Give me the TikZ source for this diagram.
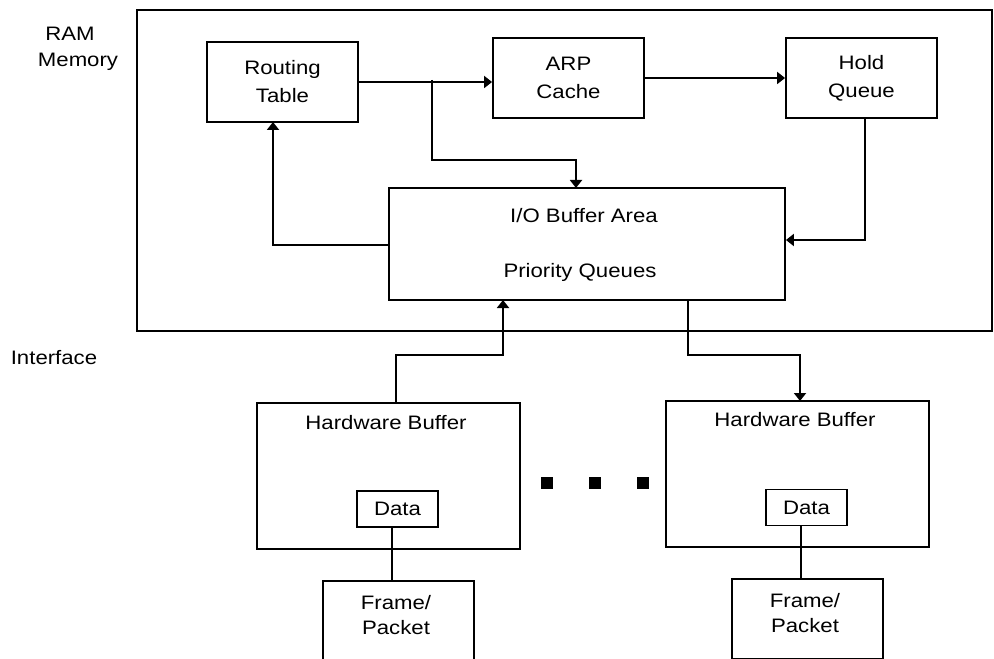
\documentclass[tikz,border=0pt]{standalone}
\usepackage{fontspec}
\setmainfont{Liberation Sans}[FakeStretch=1.14]
\usetikzlibrary{arrows.meta,calc}
\tikzset{
  box/.style={draw, line width=1.4pt, inner sep=0pt, rectangle},
  topbox/.style={box, minimum width=113.25pt, minimum height=60pt, align=center},
  hwbox/.style={box, minimum width=197.25pt, minimum height=109.5pt},
  databox/.style={box, minimum width=60.75pt, minimum height=27pt},
  txt/.style={inner sep=0pt, align=center},
  arr/.style={line width=1.4pt, -{Triangle[length=6pt,width=9pt]}},
  conn/.style={line width=1.4pt},
  dotsq/.style={fill=black, inner sep=0pt, minimum size=9pt, rectangle}
}
\begin{document}
\begin{tikzpicture}[x=0.75pt,y=-0.75pt,font=\fontsize{14.6}{21}\selectfont]
\useasboundingbox (0,0) rectangle (994,659);
\clip (0,0) rectangle (994,659);
\fill[white] (0,0) rectangle (994,659);

% outer RAM frame
\node[box, minimum width=641.25pt, minimum height=240.75pt] (ram) at (564.5,170.5) {};

% labels
\node[txt] (lram) at (70,34) {RAM};
\node[txt] (lmem) at (78,62) {Memory};
\node[txt] (lint) at (54,358) {Interface};

% top boxes
\node[topbox] (rt) at (282.5,82) {Routing\\Table};
\node[topbox] (arp) at (568.5,78) {ARP\\Cache};
\node[topbox] (hold) at (861.5,78) {Hold\\Queue};

% I/O buffer
\node[box, minimum width=297pt, minimum height=84pt] (io) at (587,244) {};
\node[txt] (iot1) at (584,216) {I/O Buffer Area};
\node[txt] (iot2) at (580,272) {Priority Queues};

% hardware buffers
\node[hwbox] (hb1) at (388.5,476) {};
\node[txt] (hb1t) at (386,423) {Hardware Buffer};
\node[hwbox] (hb2) at (797.5,474) {};
\node[txt] (hb2t) at (795,420) {Hardware Buffer};

\node[databox] (d1) at (397.5,509) {Data};
\node[databox] (d2) at (806.5,507.5) {Data};

% frame/packet boxes
\node[topbox] (f1) at (398.5,621) {};
\node[txt] (f1t) at (396,615) {Frame/\\[-2pt]Packet};
\node[topbox] (f2) at (807.5,619) {};
\node[txt] (f2t) at (805,613) {Frame/\\[-2pt]Packet};

% dots
\node[dotsq] (dot1) at (547,483) {};
\node[dotsq] (dot2) at (595,483) {};
\node[dotsq] (dot3) at (643,483) {};

% coordinates for connector ends
\coordinate (br) at ($(rt.east)!0.548!(arp.west)$);
\coordinate (ioin) at (576,188);
\coordinate (rtin) at (273,122);
\coordinate (ioout1) at (503,300);
\coordinate (hb1top) at (396,403);
\coordinate (ioout2) at (688,300);
\coordinate (hb2in) at (800,401);

% connectors
\draw[arr] (rt.east) -- (rt.east -| arp.west);
\draw[arr] (arp.east) -- (hold.west);
\draw[arr] (br) -- ++(0,80) -| (ioin);
\draw[arr] (io.west |- 0,245) -| (rtin);
\draw[arr] (hold.south -| 865,0) |- (io.east |- 0,240);
\draw[arr] (hb1top) -- ++(0,-48) -| (ioout1);
\draw[arr] (ioout2) -- ++(0,55) -| (hb2in);
\draw[conn] ([xshift=-4pt]d1.south) -- ([xshift=-4pt]d1.south |- f1.north);
\draw[conn] ([xshift=-4pt]d2.south) -- ([xshift=-4pt]d2.south |- f2.north);
\end{tikzpicture}
\end{document}
